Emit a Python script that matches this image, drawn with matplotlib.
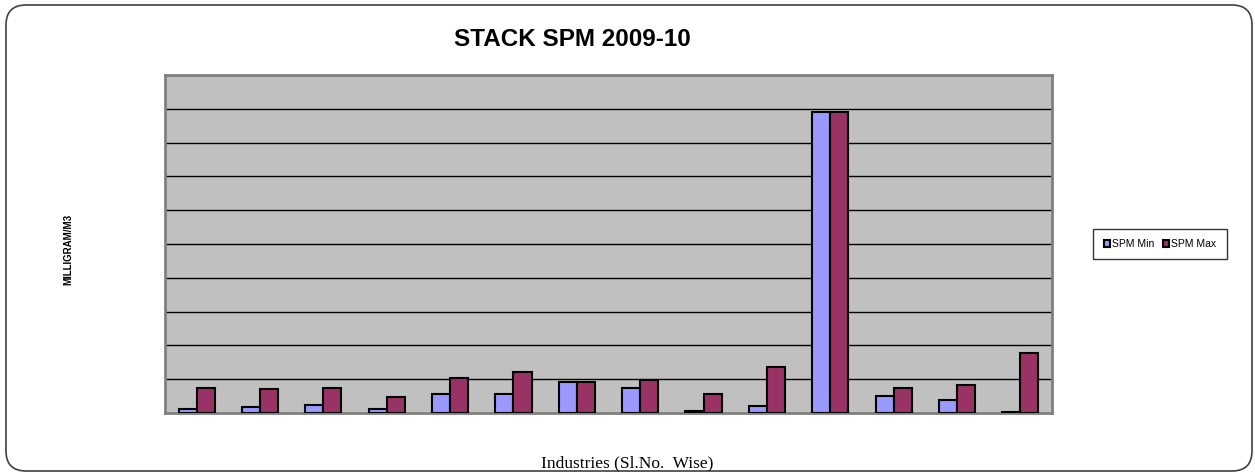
import numpy as np
import matplotlib.pyplot as plt
from matplotlib.patches import FancyBboxPatch

# industries 1..14 (no tick labels in the original)
industries = list(range(1, 15))
spm_min = [12, 18, 24, 12, 56, 56, 92, 75, 5, 20, 890, 51, 39, 2]
spm_max = [75, 70, 75, 48, 105, 122, 92, 98, 56, 137, 890, 75, 84, 178]

fig = plt.figure(figsize=(12.55, 4.72), dpi=100)

# rounded outer frame (pixel coords)
frame = FancyBboxPatch((26, 21), 1206, 426, boxstyle="round,pad=20",
                       transform=None, facecolor="white", edgecolor="#404040",
                       linewidth=1.2, zorder=-5)
fig.patches.append(frame)

ax = fig.add_axes([165 / 1255, 1 - 413 / 472, 887 / 1255, 338 / 472])
ax.set_facecolor("#C0C0C0")

x = np.arange(len(industries))
w = 1 / 3.5
ax.bar(x - w / 2, spm_min, w, color="#9999FF", edgecolor="black", linewidth=1.5,
       label="SPM Min", zorder=3)
ax.bar(x + w / 2, spm_max, w, color="#993366", edgecolor="black", linewidth=1.5,
       label="SPM Max", zorder=3)

ax.set_xlim(-0.5, len(industries) - 0.5)
ax.set_ylim(0, 1000)
ax.set_yticks(np.arange(100, 1000, 100))
ax.yaxis.grid(True, color="black", linewidth=1)
ax.set_axisbelow(True)
ax.set_xticks([])
ax.tick_params(axis="y", length=0, labelleft=False)
for s in ax.spines.values():
    s.set_color("#808080")
    s.set_linewidth(2)

fig.text(572 / 1255, 1 - 40 / 472, "STACK SPM 2009-10", ha="center", va="center",
         fontsize=17.5, fontweight="bold", family="Liberation Sans")
fig.text(68 / 1255, 1 - 249 / 472, "MILLIGRAM/M3", rotation=90, ha="center",
         va="center", fontsize=7, fontweight="bold", family="Liberation Sans")
fig.text(627 / 1255, 1 - 455 / 472, "Industries (Sl.No.  Wise)", ha="center",
         va="top", fontsize=12.5, family="Liberation Serif")

leg = fig.legend(loc="center", bbox_to_anchor=(1160 / 1255, 1 - 244 / 472), ncol=2,
                 frameon=True, fancybox=False, edgecolor="black",
                 prop={"family": "Liberation Sans", "size": 7.5},
                 handlelength=0.6, handleheight=0.6, handletextpad=0.2,
                 columnspacing=0.8, borderpad=1.0)
leg.get_frame().set_linewidth(1)

fig.savefig("out.png", dpi=100)
